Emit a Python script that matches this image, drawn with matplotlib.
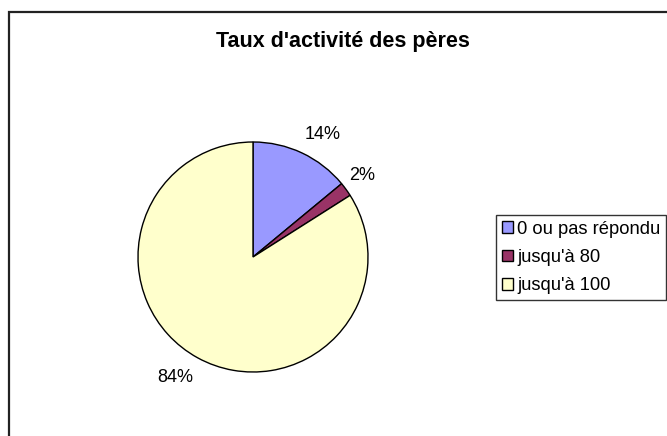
import matplotlib
matplotlib.use("Agg")
import matplotlib.pyplot as plt
from matplotlib.patches import Rectangle

plt.rcParams['font.family'] = ['Liberation Sans', 'DejaVu Sans']

# data
categories = ["0 ou pas répondu", "jusqu'à 80", "jusqu'à 100"]
values = [14, 2, 84]
colors = ["#9999FF", "#993366", "#FFFFCC"]

W, H = 667, 436
fig = plt.figure(figsize=(W / 100, H / 100), dpi=100)
ax = fig.add_axes([0, 0, 1, 1])

# pie drawn in pixel space (y up)
wedges, texts, autotexts = ax.pie(values, colors=colors, startangle=90, counterclock=False,
                                  center=(253, H - 257), radius=115,
                                  autopct='%1.0f%%', pctdistance=1.24,
                                  wedgeprops=dict(edgecolor='black', linewidth=1.0),
                                  textprops=dict(fontsize=13, color='black'))

# small nudges so the labels sit where excel put them
nudges = [(9, -7), (-6, -2), (-9, 4)]
for t, (dx, dy) in zip(autotexts, nudges):
    x, y = t.get_position()
    t.set_position((x + dx, y + dy))

ax.set_xlim(0, W)
ax.set_ylim(0, H)
ax.set_aspect('equal')
ax.axis('off')

# outer chart border (runs off the canvas right and bottom)
ax.add_patch(Rectangle((9, -20), W + 20, H - 12 + 20, fill=False,
                       edgecolor='#222222', linewidth=1.6, clip_on=False))

ax.text(343, H - 41, "Taux d'activité des pères", fontsize=15.5, fontweight='bold',
        ha='center', va='center')

leg = ax.legend(wedges, categories, loc='upper left',
                bbox_to_anchor=(496 / W, 1 - 215 / H), bbox_transform=fig.transFigure,
                fontsize=13.2, frameon=True, fancybox=False, borderpad=0.3,
                handlelength=0.6, handleheight=0.6, handletextpad=0.25,
                labelspacing=0.62, borderaxespad=0)
leg.get_frame().set_edgecolor('black')
leg.get_frame().set_linewidth(1.0)
for h in leg.legend_handles:
    h.set_edgecolor('black')
    h.set_linewidth(1.0)

fig.savefig("out.png", dpi=100)
